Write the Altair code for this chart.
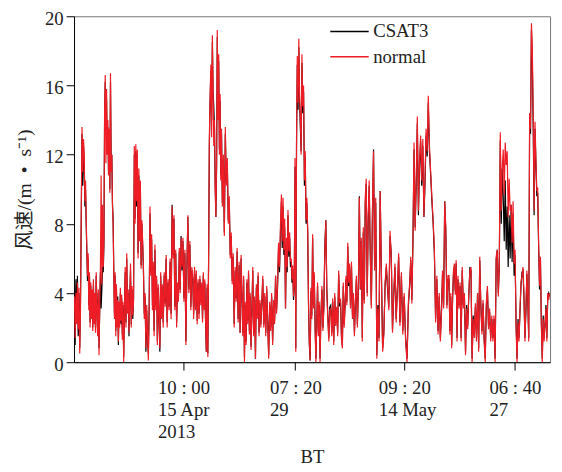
import json
import altair as alt
import pandas as pd

# ---- data: wind speed readings, grouped in consecutive record blocks ----
NORMAL_SEGMENTS = [
    [3.8, 1.4, 4.0, 2.2, 4.6, 1.9, 4.3, 0.5, 3.0, 8.5, 13.6, 11.0, 12.9],
    [12.0, 9.3, 10.5, 8.4, 6.5, 5.0, 6.3, 3.0, 5.2, 2.0, 4.6, 2.5, 4.2, 1.8, 4.8],
    [2.2, 4.0, 1.7, 5.2, 3.0, 1.5, 4.2, 0.4, 3.3, 5.5, 10.8, 4.5, 9.1, 5.5],
    [7.0, 14.5, 16.6, 11.5, 15.8, 12.0, 14.0, 10.8, 13.5, 9.8, 16.7, 11.0, 12.0, 9.0, 8.0],
    [5.0, 2.5, 5.2, 1.5, 4.5, 2.0, 3.6, 1.2, 3.5, 2.0, 4.3, 2.4, 3.9, 1.3, 3.5],
    [0.0, 3.0, 5.5, 2.0, 6.3, 2.8, 4.2, 1.7, 3.6, 5.7, 2.0, 4.4, 2.7],
    [3.5, 12.5, 8.0, 12.6, 9.3, 12.3, 6.0, 11.2, 7.0, 10.5, 5.4, 8.2, 7.0],
    [5.5, 2.5, 4.0, 0.8, 3.3, 1.5, 0.1, 3.0, 9.0, 5.0, 7.4, 3.0],
    [5.8, 1.5, 6.8, 3.0, 5.0, 1.0, 4.5, 2.8, 0.8, 5.2, 2.5, 4.5],
    [2.0, 5.2, 3.2, 6.2, 2.0, 4.8, 3.0, 6.0, 2.5, 9.0],
    [6.0, 8.5, 3.0, 6.5, 2.0, 4.6, 3.5, 6.6, 4.0, 7.2, 5.5],
    [7.2, 3.5, 6.5, 1.0, 5.5, 8.5, 4.0, 7.0, 3.0, 5.5],
    [5.0, 2.5, 5.5, 3.0, 5.3, 2.2, 4.8, 2.5, 5.0, 3.3, 4.6],
    [2.3, 5.2, 3.0, 4.8, 2.5, 0.6, 4.5, 0.3, 6.0, 13.0, 15.5, 17.2, 13.0],
    [18.9, 16.0, 12.5, 14.0, 10.0, 8.4, 11.5, 19.2, 14.0, 17.8, 12.0, 15.5, 10.5, 13.5],
    [9.0, 12.0, 7.3, 13.6, 10.2, 11.8, 8.0, 9.6, 6.0, 7.5],
    [4.5, 6.3, 2.0, 5.5, 3.5, 6.6, 2.3, 5.8, 1.7, 6.2],
    [3.8, 1.5, 5.0, 0.0, 3.5, 1.0, 4.8, 2.2, 5.3, 1.6, 4.0, 0.7],
    [2.8, 5.5, 1.5, 3.8, 0.2, 4.5, 2.5, 5.2, 1.5, 3.6, 2.0],
    [3.5, 5.0, 2.0, 4.0, 1.5, 4.4, 2.2, 0.2, 3.5, 1.8],
    [4.0, 1.0, 3.6, 2.2, 5.0, 2.8, 4.5, 6.9, 5.5, 8.0],
    [9.7, 7.0, 9.5, 6.5, 8.3, 3.1, 7.2, 5.5, 8.8, 6.4, 7.5, 5.8],
    [6.0, 4.8, 5.6, 3.8, 4.5, 11.8, 0.6, 13.0, 17.7, 15.0, 18.7, 15.5, 14.0],
    [12.0, 17.8, 14.8, 16.0, 10.5, 12.2, 8.2, 9.5, 7.7, 3.5, 1.2, 0.1],
    [4.3, 2.5, 7.4, 3.1, 5.2, 2.0, 0.0, 2.1, 4.6, 1.5, 3.5, 0.0],
    [2.5, 4.4, 1.8, 3.1, 6.5, 8.2, 4.0, 2.5, 1.2, 3.0],
    [3.1, 1.5, 3.7, 1.0, 4.0, 2.1, 3.2, 1.5, 5.3, 3.5],
    [3.6, 1.3, 0.8, 4.6, 2.0, 3.1, 5.0, 3.3, 6.9, 4.6, 5.7],
    [3.1, 5.8, 2.5, 4.0, 1.5, 3.5, 5.0, 2.0, 4.3, 9.5],
    [4.2, 7.2, 1.2, 7.8, 3.4, 9.5, 10.6, 3.8, 8.4, 10.5],
    [6.5, 3.1, 8.75, 12.2, 5.3, 9.5, 0.2, 3.1, 1.2],
    [9.9, 5.0, 0.6, 1.6, 4.6, 5.7, 4.4, 3.0],
    [7.6, 6.1, 1.7, 4.0, 5.7, 2.3, 4.4, 6.3],
    [2.1, 5.2, 1.6, 4.0, 1.2, 0.0, 3.5],
    [4.6, 6.1, 3.4, 7.2, 12.7, 7.6, 10.6, 14.2, 8.75],
    [11.6, 13.1, 10.5, 12.9, 8.4, 10.6, 13.5, 12.2, 15.4],
    [12.5, 11.0, 9.5, 8.2, 6.5, 2.3, 5.0, 1.6],
    [4.0, 1.2, 2.7, 5.3, 3.1, 9.3, 7.8, 3.1, 5.0],
    [5.0, 1.6, 4.0, 0.8, 3.8, 5.3, 5.7, 3.9, 5.9, 1.2, 5.0],
    [3.1, 4.6, 1.2, 5.5, 3.1, 4.0, 0.4, 3.1, 1.9],
    [4.0, 5.3, 5.5, 0.0, 2.5, 1.4, 3.4, 1.2, 4.0],
    [0.6, 6.1, 3.1, 1.6, 3.6, 1.2, 0.0, 3.4, 4.4],
    [1.9, 3.1, 1.2, 2.7, 1.2, 2.7, 0.0, 6.1, 6.5],
    [3.8, 5.7, 13.3, 8.75, 11.2, 12.3, 9.7, 12.7, 11.4, 12.2],
    [8.4, 10.6, 8.75, 9.1, 6.9, 9.3, 5.7, 6.5, 2.1, 0.0],
    [2.3, 1.2, 3.1, 4.6, 5.0, 5.5, 4.0, 1.2, 3.1, 5.3],
    [3.6, 1.2, 14.4, 13.5, 19.6, 18.2, 14.4, 8.75, 13.9, 11.8, 9.9],
    [10.1, 6.9, 4.4, 6.1, 2.1, 0.0, 2.5, 1.2, 2.3, 3.1, 1.2, 4.0, 3.6, 4.0],
]

CSAT3_SEGMENTS = [
    [4.5, 1.0, 4.8, 2.5, 5.0, 1.5, 4.0, 0.8, 3.5, 8.0, 13.2, 10.2, 12.5],
    [11.5, 9.0, 10.0, 8.0, 6.3, 4.7, 6.0, 3.3, 5.0, 2.3, 4.4, 2.8, 4.0, 2.0, 4.5],
    [2.5, 3.8, 2.0, 5.0, 3.3, 1.8, 4.0, 0.8, 3.1, 5.2, 3.1, 4.2, 5.5, 5.2],
    [6.8, 14.0, 16.2, 13.5, 15.2, 12.2, 13.6, 11.0, 13.0, 10.0, 16.2, 11.5, 12.0, 9.2, 8.2],
    [5.3, 2.8, 5.0, 1.8, 4.3, 2.3, 3.8, 1.0, 3.3, 2.3, 4.0, 2.2, 3.7, 1.6, 3.3],
    [0.3, 3.2, 5.2, 2.3, 6.0, 3.0, 4.0, 1.5, 3.8, 5.3, 2.2, 4.2, 2.5],
    [3.7, 12.0, 8.3, 12.2, 9.0, 12.0, 6.3, 10.8, 7.3, 10.2, 5.6, 8.0, 6.8],
    [5.3, 2.8, 3.8, 0.6, 3.0, 1.2, 0.5, 3.2, 8.6, 5.2, 7.1, 3.3],
    [5.5, 1.8, 6.5, 3.3, 4.8, 1.2, 4.3, 2.5, 0.6, 5.0, 2.8, 4.3],
    [2.3, 5.0, 3.4, 6.0, 2.3, 4.6, 3.2, 5.8, 2.8, 9.1],
    [6.2, 8.3, 3.2, 6.3, 2.3, 4.4, 3.7, 6.4, 4.2, 7.3, 5.3],
    [7.0, 3.7, 6.3, 1.2, 5.3, 8.4, 4.2, 6.8, 3.2, 5.3],
    [4.8, 2.8, 5.3, 3.2, 5.1, 2.4, 4.6, 2.8, 4.8, 3.5, 4.4],
    [2.5, 5.0, 3.2, 4.6, 2.3, 0.6, 4.3, 0.5, 5.8, 12.5, 15.0, 16.8, 14.0],
    [18.5, 15.6, 14.8, 13.6, 10.3, 8.4, 11.2, 18.8, 14.3, 17.4, 12.3, 15.1, 10.8, 13.2],
    [9.2, 11.7, 7.5, 13.2, 10.4, 11.5, 8.2, 9.3, 6.2, 7.3],
    [4.7, 6.1, 2.2, 5.3, 3.7, 6.4, 2.5, 5.6, 1.7, 6.0],
    [3.6, 1.7, 4.8, 0.3, 3.3, 1.2, 4.6, 2.4, 5.1, 1.8, 3.8, 0.9],
    [3.0, 5.3, 1.7, 3.6, 0.2, 4.3, 2.7, 5.0, 1.7, 3.4, 2.2],
    [3.3, 4.8, 2.2, 3.8, 1.7, 4.2, 2.4, 0.4, 3.3, 2.0],
    [3.8, 1.2, 3.4, 2.4, 5.0, 3.0, 4.3, 6.6, 5.2, 7.6],
    [9.3, 6.6, 9.0, 6.2, 7.8, 3.1, 6.8, 5.2, 8.5, 6.1, 7.2, 5.5],
    [5.8, 4.6, 5.4, 3.6, 4.3, 11.3, 0.8, 12.6, 17.2, 14.6, 18.2, 15.0, 13.6],
    [12.2, 17.3, 14.4, 15.6, 10.2, 11.9, 8.0, 9.2, 7.5, 3.3, 1.0, 0.1],
    [4.1, 2.7, 7.2, 3.3, 5.0, 2.2, 0.2, 2.3, 4.4, 1.7, 3.3, 0.2],
    [2.7, 4.2, 2.0, 3.3, 6.8, 8.2, 4.2, 2.7, 1.4, 3.2],
    [3.3, 1.7, 3.5, 1.2, 3.8, 2.3, 3.0, 1.7, 5.1, 3.3],
    [3.4, 1.5, 1.0, 4.4, 2.2, 3.3, 4.8, 3.5, 6.7, 4.4, 5.5],
    [3.3, 5.6, 2.7, 3.8, 1.7, 3.3, 4.8, 2.2, 4.1, 9.6],
    [4.2, 7.0, 1.4, 7.5, 3.6, 9.2, 10.3, 4.0, 8.1, 10.2],
    [6.3, 3.3, 8.5, 12.3, 5.5, 9.2, 0.4, 3.3, 1.4],
    [9.9, 5.2, 0.8, 1.8, 4.4, 5.5, 4.2, 3.2],
    [7.3, 6.3, 1.9, 3.8, 5.5, 2.5, 4.2, 6.1],
    [2.3, 5.0, 1.8, 3.8, 1.4, 0.2, 3.3],
    [4.4, 5.9, 3.6, 7.0, 12.3, 7.8, 10.3, 13.8, 8.5],
    [11.3, 12.8, 10.2, 12.5, 8.4, 10.3, 13.1, 11.9, 15.0],
    [12.2, 10.8, 9.3, 8.0, 6.3, 2.5, 4.8, 1.8],
    [3.8, 1.4, 2.9, 5.1, 3.3, 9.3, 7.5, 3.3, 4.8],
    [4.8, 1.8, 3.8, 1.0, 3.6, 5.1, 5.5, 4.1, 5.7, 1.4, 4.8],
    [3.3, 4.4, 1.4, 5.3, 3.3, 3.8, 0.6, 3.3, 2.1],
    [3.8, 5.5, 5.3, 0.2, 2.7, 1.6, 3.2, 1.4, 4.0],
    [0.8, 5.9, 3.3, 1.8, 3.4, 1.4, 0.2, 3.2, 4.2],
    [2.1, 2.9, 1.4, 2.5, 1.4, 2.5, 0.2, 5.9, 6.5],
    [4.0, 5.5, 12.8, 8.0, 11.2, 9.5, 7.0, 10.5, 6.5, 9.0],
    [5.5, 8.5, 6.0, 9.1, 5.8, 8.6, 5.0, 6.2, 2.3, 0.2],
    [2.5, 1.4, 2.9, 4.4, 5.2, 5.3, 3.8, 1.4, 2.9, 5.1],
    [3.4, 1.4, 14.0, 13.2, 19.2, 17.4, 13.5, 8.5, 13.5, 11.5, 9.6],
    [9.8, 6.7, 4.2, 5.9, 2.3, 0.2, 2.7, 1.4, 2.1, 3.3, 1.4, 3.8, 4.0, 3.8],
]

SERIES = ["CSAT3", "normal"]
COLORS = ["#000000", "#ee1c25"]
RECORD_END = 483            # record axis length
BLOCK = 10                  # records per block (last block takes the rest)
TICK_RECORDS = [110.7, 224.3, 334.7, 447.0]
TICK_LABELS = [["10 : 00", "15 Apr", "2013"], ["07 : 20", "29"],
               ["09 : 20", "14 May"], ["06 : 40", "27"]]
Y_TICKS = [0, 4, 8, 12, 16, 20]


def expand(segments, name):
    rows = []
    n = len(segments)
    for k, seg in enumerate(segments):
        start = k * BLOCK
        span = BLOCK if k < n - 1 else RECORD_END - start
        for j, v in enumerate(seg):
            rows.append({"t": start + span * (j + 0.5) / len(seg), "v": v, "series": name})
    return rows


df = pd.DataFrame(expand(CSAT3_SEGMENTS, "CSAT3") + expand(NORMAL_SEGMENTS, "normal"))

# label expression (multi-line tick labels)
expr = json.dumps(TICK_LABELS[-1])
for i in range(len(TICK_RECORDS) - 2, -1, -1):
    mid = (TICK_RECORDS[i] + TICK_RECORDS[i + 1]) / 2
    expr = f"datum.value < {mid} ? {json.dumps(TICK_LABELS[i])} : ({expr})"

FONT = "Liberation Serif, Noto Sans CJK SC"

chart = alt.Chart(df).mark_line(strokeWidth=1.2, clip=True).encode(
    x=alt.X("t:Q",
            scale=alt.Scale(domain=[0, RECORD_END], nice=False, zero=False),
            axis=alt.Axis(values=TICK_RECORDS, labelExpr=expr, title="BT",
                          labelAlign="left", labelOffset=-26, labelBaseline="top",
                          labelLineHeight=22, labelPadding=9, labelFlush=False,
                          labelOverlap=False, titlePadding=7, titleFontSize=19,
                          grid=False)),
    y=alt.Y("v:Q",
            scale=alt.Scale(domain=[0, 20], nice=False),
            axis=alt.Axis(values=Y_TICKS, title="风速/(m\u2002•\u2002s⁻¹)", labelPadding=3,
                          labelOffset=2, titlePadding=10, titleFontSize=20,
                          grid=False)),
    color=alt.Color("series:N",
                    scale=alt.Scale(domain=SERIES, range=COLORS),
                    legend=alt.Legend(title=None, orient="none", legendX=269, legendY=5,
                                      symbolType="M-2,0H2", symbolSize=380,
                                      symbolStrokeWidth=1.5, labelFontSize=19,
                                      labelFont=FONT, labelColor="#222",
                                      rowPadding=4.5, labelOffset=13.5, padding=0)),
).properties(
    width=483, height=351,
    autosize=alt.AutoSizeParams(type="none"),
    padding={"left": 67, "top": 5, "right": 4, "bottom": 106},
).configure_view(
    stroke="#777", strokeWidth=1
).configure_axis(
    domainColor="#000", tickColor="#000", tickSize=8, labelFont=FONT,
    labelFontSize=19, labelColor="#222", titleFont=FONT,
    titleFontWeight="normal", titleColor="#222"
)

chart.save("out.html", embed_options={"renderer": "svg", "actions": False})
